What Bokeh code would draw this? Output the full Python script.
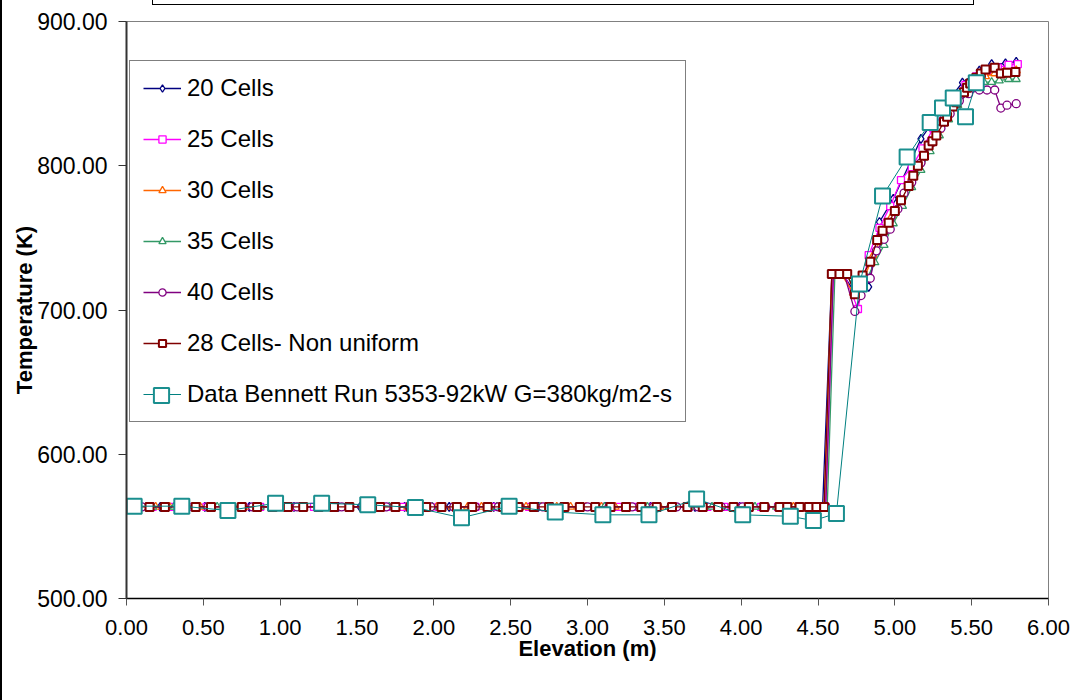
import math
from bokeh.plotting import figure
from bokeh.models import (FixedTicker, NumeralTickFormatter, Legend, LegendItem,
                          Range1d, InlineStyleSheet)
from bokeh.embed import file_html
from bokeh.resources import INLINE

# ---------------- data ----------------
x_20 = [0.07, 0.22, 0.36, 0.51, 0.65, 0.80, 0.94, 1.09, 1.23, 1.38, 1.52, 1.67, 1.81, 1.96, 2.10,
        2.25, 2.39, 2.54, 2.68, 2.83, 2.97, 3.12, 3.26, 3.41, 3.55, 3.70, 3.84, 3.99, 4.13, 4.28,
        4.42, 4.53, 4.59, 4.66, 4.74, 4.83, 4.90, 4.99, 5.17, 5.31, 5.44, 5.55, 5.63, 5.72, 5.79]
t_20 = [563.5, 563.5, 563.5, 563.5, 563.5, 563.5, 563.5, 563.5, 563.5, 563.5, 563.5, 563.5,
        563.5, 563.5, 563.5, 563.5, 563.5, 563.5, 563.5, 563.5, 563.5, 563.5, 563.5, 563.5,
        563.5, 563.5, 563.5, 563.5, 563.5, 563.5, 563.5, 563.5,
        725, 725, 712, 716, 761, 777, 818.6, 840, 857.7, 866, 870.5, 871, 872]

x_25 = [0.06, 0.17, 0.29, 0.41, 0.52, 0.64, 0.76, 0.87, 0.99, 1.10, 1.22, 1.34, 1.45, 1.57, 1.69,
        1.80, 1.92, 2.03, 2.15, 2.27, 2.38, 2.50, 2.62, 2.73, 2.85, 2.96, 3.08, 3.20, 3.31, 3.43,
        3.55, 3.66, 3.78, 3.89, 4.01, 4.13, 4.24, 4.36, 4.48, 4.55,
        4.60, 4.67, 4.76, 4.83, 4.90, 4.97, 5.04, 5.11, 5.18, 5.25, 5.32, 5.39, 5.46, 5.53, 5.60,
        5.67, 5.74, 5.80]
t_25 = [563.5, 563.5, 563.5, 563.5, 563.5, 563.5, 563.5, 563.5, 563.5, 563.5, 563.5, 563.5,
        563.5, 563.5, 563.5, 563.5, 563.5, 563.5, 563.5, 563.5, 563.5, 563.5, 563.5, 563.5,
        563.5, 563.5, 563.5, 563.5, 563.5, 563.5, 563.5, 563.5, 563.5, 563.5, 563.5, 563.5,
        563.5, 563.5, 563.5, 563.5,
        725, 725, 700.7, 738, 757, 772, 790, 799, 812, 826, 838, 848, 856, 862, 866, 868, 870, 870.5]

x_30 = [0.09, 0.19, 0.28, 0.38, 0.48, 0.57, 0.67, 0.77, 0.86, 0.96, 1.06, 1.15, 1.25, 1.35, 1.44,
        1.54, 1.64, 1.73, 1.83, 1.93, 2.02, 2.12, 2.22, 2.31, 2.41, 2.51, 2.60, 2.70, 2.80, 2.89,
        2.99, 3.09, 3.18, 3.28, 3.38, 3.47, 3.57, 3.67, 3.76, 3.86, 3.96, 4.05, 4.15, 4.25, 4.34,
        4.44, 4.54,
        4.59, 4.65, 4.73, 4.80, 4.86, 4.92, 4.98, 5.05, 5.11, 5.17, 5.23, 5.29, 5.35, 5.41, 5.47,
        5.53, 5.59, 5.65, 5.71, 5.79]
t_30 = [563.5, 563.5, 563.5, 563.5, 563.5, 563.5, 563.5, 563.5, 563.5, 563.5, 563.5, 563.5,
        563.5, 563.5, 563.5, 563.5, 563.5, 563.5, 563.5, 563.5, 563.5, 563.5, 563.5, 563.5,
        563.5, 563.5, 563.5, 563.5, 563.5, 563.5, 563.5, 563.5, 563.5, 563.5, 563.5, 563.5,
        563.5, 563.5, 563.5, 563.5, 563.5, 563.5, 563.5, 563.5, 563.5, 563.5, 563.5,
        725, 725, 712, 722, 738, 752, 765, 780, 792, 803, 815, 825, 836, 845, 852, 858, 862, 864,
        865, 866]

x_35 = [0.03, 0.17, 0.31, 0.45, 0.59, 0.73, 0.87, 1.01, 1.15, 1.29, 1.43, 1.57, 1.71, 1.85, 1.99,
        2.13, 2.27, 2.41, 2.55, 2.69, 2.83, 2.97, 3.11, 3.25, 3.39, 3.53, 3.67, 3.81, 3.95, 4.09,
        4.23, 4.37, 4.51, 4.56,
        4.61, 4.68, 4.77, 4.82, 4.87, 4.93, 4.99, 5.05, 5.11, 5.17, 5.23, 5.29, 5.35, 5.41, 5.47,
        5.53, 5.58, 5.63, 5.68, 5.74, 5.79]
t_35 = [563.5, 563.5, 563.5, 563.5, 563.5, 563.5, 563.5, 563.5, 563.5, 563.5, 563.5, 563.5,
        563.5, 563.5, 563.5, 563.5, 563.5, 563.5, 563.5, 563.5, 563.5, 563.5, 563.5, 563.5,
        563.5, 563.5, 563.5, 563.5, 563.5, 563.5, 563.5, 563.5, 563.5, 563.5,
        725, 725, 710, 722, 733, 745, 760, 772, 785, 797, 810, 821, 832, 842, 850, 855, 858, 858,
        859, 860, 860]

x_40 = [0.10, 0.24, 0.39, 0.53, 0.68, 0.82, 0.97, 1.11, 1.26, 1.40, 1.55, 1.69, 1.84, 1.98, 2.13,
        2.27, 2.42, 2.56, 2.71, 2.85, 3.00, 3.14, 3.29, 3.43, 3.58, 3.72, 3.87, 4.01, 4.16, 4.30,
        4.45, 4.55,
        4.60, 4.67, 4.74, 4.78, 4.84, 4.88, 4.93, 4.97, 5.02, 5.06, 5.11, 5.17, 5.24, 5.30, 5.36,
        5.42, 5.48, 5.55, 5.60, 5.65, 5.69, 5.73, 5.79]
t_40 = [563.5, 563.5, 563.5, 563.5, 563.5, 563.5, 563.5, 563.5, 563.5, 563.5, 563.5, 563.5,
        563.5, 563.5, 563.5, 563.5, 563.5, 563.5, 563.5, 563.5, 563.5, 563.5, 563.5, 563.5,
        563.5, 563.5, 563.5, 563.5, 563.5, 563.5, 563.5, 563.5,
        725, 725, 699, 710, 722, 741, 749, 756, 770, 781, 788.5, 802, 816, 826, 836, 845, 850,
        852.5, 852.5, 852.5, 840, 842, 843]

x_28 = [0.05, 0.15, 0.25, 0.35, 0.45, 0.55, 0.65, 0.75, 0.85, 0.95, 1.05, 1.15, 1.25, 1.35, 1.45,
        1.55, 1.65, 1.75, 1.85, 1.95, 2.05, 2.15, 2.25, 2.35, 2.45, 2.55, 2.65, 2.75, 2.85, 2.95,
        3.05, 3.15, 3.25, 3.35, 3.45, 3.55, 3.65, 3.75, 3.85, 3.95, 4.05, 4.15, 4.25,
        4.30, 4.38, 4.44, 4.49, 4.54,
        4.59, 4.64, 4.69, 4.74, 4.79, 4.84, 4.885, 4.92, 4.96, 5.00, 5.04, 5.09, 5.12, 5.15, 5.19,
        5.22, 5.245, 5.27, 5.32, 5.34, 5.38, 5.40, 5.45, 5.47, 5.49, 5.53, 5.56, 5.59, 5.65, 5.69,
        5.73, 5.785]
t_28 = [563.5, 563.5, 563.5, 563.5, 563.5, 563.5, 563.5, 563.5, 563.5, 563.5, 563.5, 563.5,
        563.5, 563.5, 563.5, 563.5, 563.5, 563.5, 563.5, 563.5, 563.5, 563.5, 563.5, 563.5,
        563.5, 563.5, 563.5, 563.5, 563.5, 563.5, 563.5, 563.5, 563.5, 563.5, 563.5, 563.5,
        563.5, 563.5, 563.5, 563.5, 563.5, 563.5, 563.5,
        563.5, 563.5, 563.5, 563.5, 563.5,
        725, 725, 725, 711, 724, 733.5, 748.5, 755, 760.5, 768.6, 776, 786, 793, 800, 807, 814,
        817, 821, 830.5, 834, 841, 844, 851, 854, 857, 861, 864, 866.7, 868, 864, 864.5, 865]

x_data = [0.05, 0.36, 0.66, 0.97, 1.27, 1.57, 1.88, 2.18, 2.49, 2.79, 3.10, 3.40, 3.71, 4.01,
          4.32, 4.47, 4.62, 4.77, 4.92, 5.08, 5.23, 5.31, 5.38, 5.46, 5.53]
t_data = [564, 564, 561, 566, 566, 565, 563, 556, 564, 560, 558, 558, 569, 558,
          557, 554, 559, 718, 779, 806, 830, 840, 847, 834, 857.5]

labels = ["20 Cells", "25 Cells", "30 Cells", "35 Cells", "40 Cells",
          "28 Cells- Non uniform", "Data Bennett Run 5353-92kW G=380kg/m2-s"]
x_ticks = [0.0, 0.5, 1.0, 1.5, 2.0, 2.5, 3.0, 3.5, 4.0, 4.5, 5.0, 5.5, 6.0]
y_ticks = [500, 600, 700, 800, 900]

FONT = "Liberation Sans"

# chart-area left border and the empty title box at the top (pure decoration)
frame_css = InlineStyleSheet(css="""
:host::before {
  content: ""; position: absolute; left: 0px; top: 0px; width: 2px; height: 700px;
  background: #000000; z-index: 50; pointer-events: none;
}
:host::after {
  content: ""; position: absolute; left: 152px; top: -20px; width: 822px; height: 25px;
  border: 1.5px solid #000000; box-sizing: border-box; z-index: 50; pointer-events: none;
}
""")

p = figure(width=1073, height=700, output_backend="svg", toolbar_location=None,
           x_range=Range1d(0, 6), y_range=Range1d(500, 900),
           min_border_left=126, min_border_right=25, min_border_top=21, min_border_bottom=102,
           stylesheets=[frame_css])
p.background_fill_color = "white"
p.border_fill_color = "white"
p.outline_line_color = "#808080"
p.outline_line_width = 1
p.xgrid.visible = False
p.ygrid.visible = False

# axes
for ax in (p.xaxis[0], p.yaxis[0]):
    ax.formatter = NumeralTickFormatter(format="0.00")
    ax.minor_tick_line_color = None
    ax.major_tick_in = 0
    ax.major_label_text_font = FONT
    ax.major_label_text_color = "black"
    ax.axis_label_text_font = FONT
    ax.axis_label_text_font_size = "22px"
    ax.axis_label_text_font_style = "bold"
    ax.axis_label_text_color = "black"

p.xaxis.major_label_text_font_size = "22px"
p.yaxis.major_label_text_font_size = "23px"
p.xaxis.ticker = FixedTicker(ticks=x_ticks)
p.yaxis.ticker = FixedTicker(ticks=y_ticks)
p.xaxis.axis_label = "Elevation (m)"
p.yaxis.axis_label = "Temperature (K)"
p.xaxis.major_tick_out = 7
p.yaxis.major_tick_out = 8
p.xaxis.major_label_standoff = 14
p.yaxis.major_label_standoff = 11
p.xaxis.axis_label_standoff = -2
p.yaxis.axis_label_standoff = -3
p.xaxis.axis_line_color = "black"
p.xaxis.axis_line_width = 1.5
p.xaxis.major_tick_line_color = "#555555"
p.yaxis.axis_line_color = "#333333"
p.yaxis.axis_line_width = 2
p.yaxis.major_tick_line_color = "#333333"

series = [
    (x_20, t_20, "#000080", "diamond", 9, 1.3),
    (x_25, t_25, "#FF00FF", "square", 7, 1.3),
    (x_30, t_30, "#FF6600", "triangle", 8, 1.3),
    (x_35, t_35, "#339966", "triangle", 8, 1.3),
    (x_40, t_40, "#800080", "circle", 8, 1.3),
    (x_28, t_28, "#800000", "square", 8, 2.0),
]

items = []
for (xs, ts, col, mk, sz, mlw), lab in zip(series, labels[:6]):
    ln = p.line(xs, ts, line_color=col, line_width=1.3)
    sc = p.scatter(xs, ts, marker=mk, size=sz, line_color=col,
                   line_width=mlw, fill_color="white")
    items.append(LegendItem(label=lab, renderers=[ln, sc]))

ln_d = p.line(x_data, t_data, line_color="#008080", line_width=1.0)
sc_d = p.scatter(x_data, t_data, marker="square", size=15, line_color="#1a8f8f",
                 line_width=2, fill_color="white")
items.append(LegendItem(label=labels[6], renderers=[ln_d]))

legend = Legend(items=items, location=(3, 176), orientation="vertical",
                label_text_font=FONT, label_text_font_size="24px", label_text_color="black",
                glyph_width=38, glyph_height=18, label_height=28, label_standoff=6,
                spacing=23, padding=13, margin=0,
                border_line_color="black", border_line_width=1,
                background_fill_color="white", background_fill_alpha=1)
p.add_layout(legend, "center")

legend2 = Legend(items=[LegendItem(label=labels[6], renderers=[sc_d])], location=(16, 184),
                 label_text_font=FONT, label_text_font_size="24px", label_text_alpha=0,
                 glyph_width=38, glyph_height=38, label_height=28, label_standoff=6,
                 spacing=0, padding=0, margin=0,
                 border_line_color=None, background_fill_alpha=0)
p.add_layout(legend2, "center")

open("out.html", "w").write(file_html(p, INLINE))
